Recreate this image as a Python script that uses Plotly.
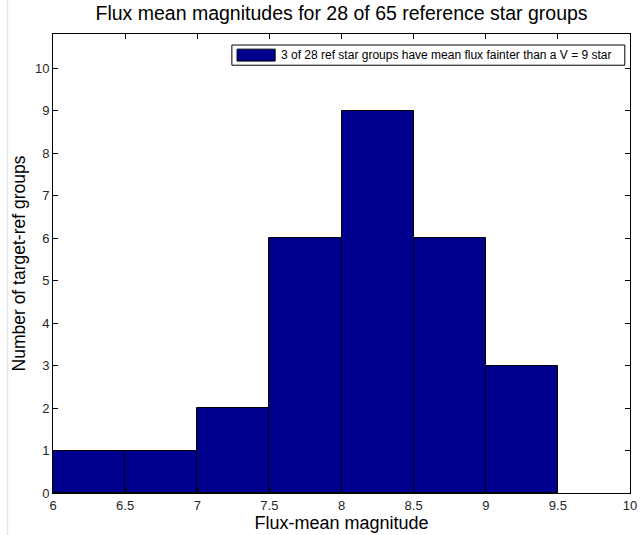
import plotly.graph_objects as go

bin_left = [6.0, 6.5, 7.0, 7.5, 8.0, 8.5, 9.0]
bin_width = 0.5
counts = [1, 1, 2, 6, 9, 6, 3]
x_ticks = [6, 6.5, 7, 7.5, 8, 8.5, 9, 9.5, 10]
x_tick_labels = ["6", "6.5", "7", "7.5", "8", "8.5", "9", "9.5", "10"]
y_ticks = list(range(0, 11))
legend_text = "3 of 28 ref star groups have mean flux fainter than a V = 9 star"

centers = [b + bin_width / 2 for b in bin_left]
bar_color = "#00008F"

fig = go.Figure()
fig.add_trace(go.Bar(
    x=centers, y=counts, width=[bin_width] * len(counts),
    marker=dict(color=bar_color, line=dict(color="black", width=1)),
    name=legend_text, showlegend=False,
))

font = "Liberation Sans, Arial, sans-serif"
fig.update_layout(
    width=642, height=535,
    margin=dict(l=53, r=12, t=34, b=42, autoexpand=False),
    paper_bgcolor="white", plot_bgcolor="white",
    font=dict(family=font, color="black"),
    title=dict(text="Flux mean magnitudes for 28 of 65 reference star groups",
               x=0.532, xanchor="center", y=0.975, yanchor="middle",
               font=dict(size=19.5, family=font, color="black")),
    bargap=0,
    xaxis=dict(range=[6, 10], tickvals=x_ticks, ticktext=x_tick_labels,
               ticks="inside", ticklen=5, tickcolor="black",
               showline=True, linecolor="black", linewidth=1, mirror="ticks",
               showgrid=False, zeroline=False, automargin=False,
               tickfont=dict(size=13, color="#262626"),
               title=dict(text="Flux-mean magnitude", standoff=2,
                          font=dict(size=18, color="black"))),
    yaxis=dict(range=[0, 10.8], tickvals=y_ticks,
               ticks="inside", ticklen=5, tickcolor="black",
               showline=True, linecolor="black", linewidth=1, mirror="ticks",
               showgrid=False, zeroline=False, automargin=False,
               tickfont=dict(size=13, color="#262626"),
               title=dict(text="Number of target-ref groups", standoff=4,
                          font=dict(size=17.5, color="black"))),
)
# page border line at left
fig.add_shape(type="line", xref="paper", yref="paper",
              x0=-0.0785, x1=-0.0785, y0=-1, y1=2,
              line=dict(color="#e4e4e4", width=1), layer="below")
# legend box (MATLAB style, with wide patch)
fig.add_shape(type="rect", xref="paper", yref="paper",
              x0=0.310, x1=0.991, y0=0.932, y1=0.976,
              fillcolor="white", line=dict(color="black", width=1))
fig.add_shape(type="rect", xref="paper", yref="paper",
              x0=0.319, x1=0.385, y0=0.941, y1=0.967,
              fillcolor=bar_color, line=dict(color="black", width=1))
fig.add_annotation(xref="paper", yref="paper", x=0.391, y=0.954,
                   xanchor="left", yanchor="middle", showarrow=False,
                   text=legend_text,
                   font=dict(size=12, family=font, color="black"))

fig.write_html("out.html")
